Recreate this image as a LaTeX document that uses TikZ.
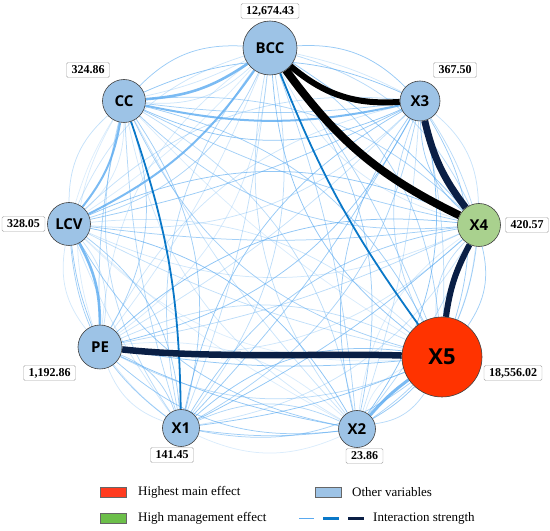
\documentclass[tikz,border=0pt]{standalone}
\usepackage{fontspec}
\setmainfont{Liberation Serif}
\newfontfamily\nodefont{Open Sans}
\usetikzlibrary{backgrounds}
\definecolor{nodeblue}{HTML}{9DC3E6}
\definecolor{nodegreen}{HTML}{A9D18E}
\definecolor{nodered}{HTML}{FF3300}
\definecolor{legred}{HTML}{FF3B1F}
\definecolor{leggreen}{HTML}{6CBF4A}
\definecolor{webblue}{HTML}{5AAAF0}
\definecolor{midblue}{HTML}{0A78C8}
\definecolor{navy}{HTML}{0A1F45}
\begin{document}
\begin{tikzpicture}[x=1pt,y=1pt,
  var/.style={circle, draw=black!75, line width=0.6pt, fill=nodeblue, inner sep=0pt,
    font=\nodefont\bfseries\fontsize{15}{15}\selectfont},
  val/.style={draw=black!35, fill=white, rounded corners=1.5pt, inner xsep=5pt, inner ysep=0pt,
    minimum height=15pt, font=\bfseries\fontsize{12}{12}\selectfont},
  web/.style={webblue, line width=0.75pt},
  strong/.style={webblue, line width=2.6pt, opacity=0.8},
  legbox/.style={draw=black!60, line width=0.5pt, minimum width=26pt, minimum height=10pt, inner sep=0pt},
  legtext/.style={anchor=west, inner sep=0pt, font=\fontsize{13}{13}\selectfont}
]
\useasboundingbox (0,0) rectangle (550,531);

% variables
\node[var, minimum size=54pt, alias=n1] (BCC) at (270,483) {BCC};
\node[var, minimum size=40pt, alias=n2] (X3) at (420,430) {X3};
\node[var, minimum size=43pt, fill=nodegreen, alias=n3] (X4) at (479,306) {X4};
\node[var, minimum size=80pt, fill=nodered, alias=n4,
  font=\nodefont\bfseries\fontsize{22}{22}\selectfont] (X5) at (442,174) {X5};
\node[var, minimum size=37pt, alias=n5] (X2) at (357,102) {X2};
\node[var, minimum size=37pt, alias=n6] (X1) at (181,103) {X1};
\node[var, minimum size=44pt, alias=n7] (PE) at (100,184) {PE};
\node[var, minimum size=43pt, alias=n8] (LCV) at (69,307) {LCV};
\node[var, minimum size=43pt, alias=n9] (CC) at (124,430) {CC};

% values
\node[val] (vBCC) at (270,520) {12,674.43};
\node[val] (vCC) at (88,461) {324.86};
\node[val] (vX3) at (455,461) {367.50};
\node[val] (vLCV) at (23.5,307) {328.05};
\node[val] (vX4) at (527,306) {420.57};
\node[val] (vPE) at (49.5,158) {1,192.86};
\node[val] (vX5) at (513,158) {18,556.02};
\node[val] (vX1) at (172,76) {141.45};
\node[val] (vX2) at (364.5,75) {23.86};

\begin{pgfonlayer}{background}
\pgfmathsetseed{7}
\foreach \i in {1,...,8}{
  \pgfmathtruncatemacro\s{\i+1}
  \foreach \j in {\s,...,9}{
    \pgfmathsetmacro\oa{0.2+0.5*rnd}
    \pgfmathsetmacro\ob{0.2+0.5*rnd}
    \pgfmathsetmacro\oc{0.2+0.5*rnd}
    \draw[web, opacity=\oa] (n\i) to[bend left=24] (n\j);
    \draw[web, opacity=\ob] (n\i) to[bend right=24] (n\j);
    \draw[web, opacity=\oc] (n\i) to[bend left=7] (n\j);
  }
}
% stronger light-blue interactions
\draw[strong] (CC) to[bend right=15] (BCC);
\draw[strong, line width=2pt] (LCV) to[bend right=14] (BCC);
\draw[strong, line width=2pt] (CC) to[bend left=14] (LCV);
\draw[strong] (LCV) to[bend left=14] (PE);
\draw[strong, line width=3pt] (X2) to[bend left=6] (X5);
\draw[strong, line width=2pt] (CC) to[bend right=12] (X3);
% medium interactions
\draw[midblue, line width=1.8pt] (BCC) to[bend right=7] (X5);
\draw[midblue, line width=1.8pt] (CC) to[bend left=9] (X1);
% strongest interactions
\draw[black, line width=6pt] (BCC) to[bend right=22] (X3);
\draw[black, line width=8pt] (BCC) to[bend right=14] (X4);
\draw[navy, line width=7pt] (X3) to[bend right=12] (X4);
\draw[navy, line width=6pt] (X4) to[bend right=10] (X5);
\draw[navy, line width=6.5pt] (PE) .. controls +(110,-12) and +(-110,4) .. (X5);
\end{pgfonlayer}

% legend
\node[legbox, fill=legred] (lr) at (113,39) {};
\node[legtext] (lrt) at (138,39) {Highest main effect};
\node[legbox, fill=leggreen] (lg) at (113,12.5) {};
\node[legtext] (lgt) at (138,12.5) {High management effect};
\node[legbox, fill=nodeblue] (lb) at (328.5,39) {};
\node[legtext] (lbt) at (352,39) {Other variables};
\draw[webblue, line width=1.3pt] (299,12.5) -- (314,12.5);
\draw[midblue, line width=2.2pt] (323,12.5) -- (339,12.5);
\draw[navy, line width=3.2pt] (348,12.5) -- (364,12.5);
\node[legtext] (lit) at (373,12.5) {Interaction strength};
\end{tikzpicture}
\end{document}
